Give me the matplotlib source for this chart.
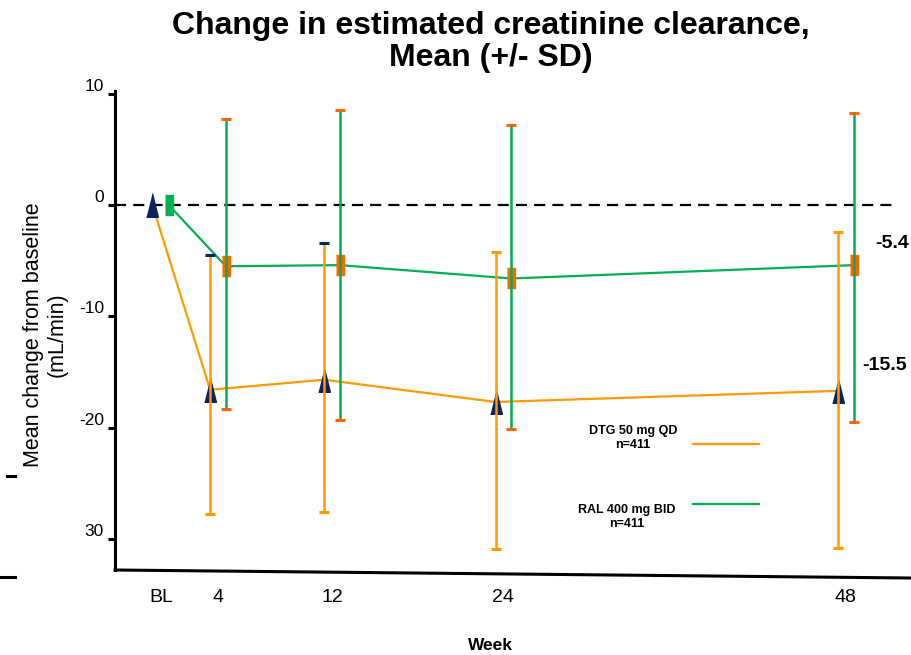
import matplotlib
matplotlib.use("Agg")
import matplotlib.pyplot as plt
from matplotlib.lines import Line2D
import numpy as np

plt.rcParams['font.family'] = ['Liberation Sans', 'DejaVu Sans']

# ---------------- data ----------------
weeks = [0, 4, 12, 24, 48]
week_labels = ["BL", "4", "12", "24", "48"]

dtg_mean = [0.0, -16.6, -15.7, -17.7, -16.7]
dtg_upper = [None, -4.5, -3.4, -4.2, -2.4]
dtg_lower = [None, -27.8, -27.6, -30.9, -30.8]

ral_mean = [0.0, -5.5, -5.4, -6.6, -5.4]
ral_upper = [None, 7.7, 8.5, 7.2, 8.3]
ral_lower = [None, -18.3, -19.3, -20.1, -19.5]

ytick_vals = [10, 0, -10, -20, -30]
ytick_labels = ["10", "0", "-10", "-20", "30"]

annot_vals = ["-5.4", "-15.5"]
legend_dtg = "DTG 50 mg QD\nn=411"
legend_ral = "RAL 400 mg BID\nn=411"

# ---------------- style ----------------
ORANGE = "#FF9A00"
GREEN = "#00B050"
RED_OR = "#FF6600"
NAVY = "#0B2461"
W, H = 912, 655

fig = plt.figure(figsize=(W / 100, H / 100), dpi=100)

def fx(px):
    return px / W

def fy(py):
    return 1 - py / H

ax = fig.add_axes([fx(115), fy(570), fx(910) - fx(115), fy(91) - fy(570)])
ax.set_xlim(-3.22, 52.5)
ax.set_ylim(-32.8, 10.25)

off = 0.55
x_dtg = np.array(weeks) - off
x_ral = np.array(weeks) + off
x_ral[0] = weeks[0] + 0.55
x_dtg[0] = weeks[0] - 0.6

# baseline dashed line
ax.plot([-3.22, 51.4], [0, 0], color="black", lw=1.6, ls=(0, (5, 3.2)), zorder=1)

tri = [(-0.25, -0.5), (0.25, -0.5), (0.0, 0.5)]
rect = [(-0.2, -0.5), (0.2, -0.5), (0.2, 0.5), (-0.2, 0.5)]

# mean lines
ax.plot(x_dtg, dtg_mean, color=ORANGE, lw=1.6, zorder=3)
ax.plot(x_ral, ral_mean, color=GREEN, lw=1.6, zorder=3)

# markers
ax.plot(x_dtg, dtg_mean, ls="none", marker=tri, markersize=17, color=NAVY, zorder=4)
ax.plot(x_ral[:1], ral_mean[:1], ls="none", marker=rect, markersize=15, color=GREEN, zorder=4)
ax.plot(x_ral[1:], ral_mean[1:], ls="none", marker=rect, markersize=15, color=RED_OR, zorder=4)

# error bars
for i in range(1, len(weeks)):
    ax.plot([x_dtg[i], x_dtg[i]], [dtg_lower[i], dtg_upper[i]], color=ORANGE, lw=1.8, zorder=5)
    ax.plot([x_ral[i], x_ral[i]], [ral_lower[i], ral_upper[i]], color=GREEN, lw=1.8, zorder=5)

dtg_top_cap_colors = [None, NAVY, NAVY, ORANGE, ORANGE]
for i in range(1, len(weeks)):
    ax.plot(x_dtg[i], dtg_upper[i], marker="_", markersize=7, mew=2.2, color=dtg_top_cap_colors[i], zorder=6)
    ax.plot(x_dtg[i], dtg_lower[i], marker="_", markersize=7, mew=2.2, color=ORANGE, zorder=6)
    ax.plot(x_ral[i], ral_upper[i], marker="_", markersize=7, mew=2.2, color=RED_OR, zorder=6)
    ax.plot(x_ral[i], ral_lower[i], marker="_", markersize=7, mew=2.2, color=RED_OR, zorder=6)

# axes styling
for s in ["top", "right", "bottom"]:
    ax.spines[s].set_visible(False)
ax.spines["left"].set_linewidth(2.2)
ax.spines["left"].set_color("black")
ax.set_yticks(ytick_vals)
ax.set_yticklabels(ytick_labels)
ax.tick_params(axis="y", direction="out", length=5, width=2.2, labelsize=12.5, pad=3)
for lbl in ax.get_yticklabels():
    lbl.set_verticalalignment("bottom")
ax.set_xticks(weeks)
ax.set_xticklabels(week_labels)
ax.tick_params(axis="x", length=0, labelsize=14, pad=14)

# slanted bottom axis line
fig.add_artist(Line2D([fx(115), fx(910)], [fy(570), fy(578)], transform=fig.transFigure,
                      color="black", lw=2.2))

# y label
ax.set_ylabel("Mean change from baseline\n(mL/min)", fontsize=15.5, linespacing=1.2)
ax.yaxis.set_label_coords((68 - 115) / 795, (570 - 335) / 479)

# x label
fig.text(fx(490), fy(645), "Week", fontsize=12.5, fontweight="bold", ha="center", va="center")

# title
fig.text(fx(491), fy(42), "Change in estimated creatinine clearance,\nMean (+/- SD)",
         fontsize=23, fontweight="bold", ha="center", va="center", linespacing=1.05)

# right annotations
fig.text(fx(875), fy(244), annot_vals[0], fontsize=14, fontweight="bold", ha="left", va="center")
fig.text(fx(862), fy(366), annot_vals[1], fontsize=14, fontweight="bold", ha="left", va="center")

# legend (manual)
fig.text(fx(633), fy(438), legend_dtg, fontsize=9, fontweight="bold", ha="center", va="center",
         linespacing=1.2)
fig.add_artist(Line2D([fx(693), fx(759)], [fy(444), fy(444)], transform=fig.transFigure,
                      color=ORANGE, lw=1.6))
fig.text(fx(627), fy(517), legend_ral, fontsize=9, fontweight="bold", ha="center", va="center",
         linespacing=1.2)
fig.add_artist(Line2D([fx(693), fx(759)], [fy(504), fy(504)], transform=fig.transFigure,
                      color=GREEN, lw=1.6))

# stray marks at left edge
fig.add_artist(Line2D([fx(7), fx(15)], [fy(476), fy(476)], transform=fig.transFigure,
                      color="black", lw=2.2))
fig.add_artist(Line2D([fx(0), fx(15)], [fy(577), fy(577)], transform=fig.transFigure,
                      color="black", lw=2.2))

fig.savefig("out.png", dpi=100)
